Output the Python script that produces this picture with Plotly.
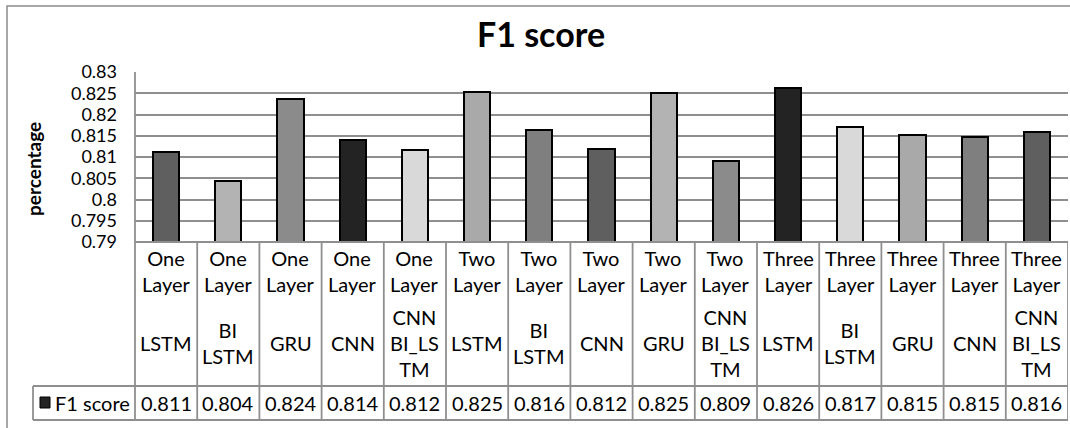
import plotly.graph_objects as go

# Model configurations (two-line table header) and their F1 scores
layers = ["One", "One", "One", "One", "One",
          "Two", "Two", "Two", "Two", "Two",
          "Three", "Three", "Three", "Three", "Three"]
models = ["LSTM", "BI<br>LSTM", "GRU", "CNN", "CNN<br>BI_LS<br>TM",
          "LSTM", "BI<br>LSTM", "CNN", "GRU", "CNN<br>BI_LS<br>TM",
          "LSTM", "BI<br>LSTM", "GRU", "CNN", "CNN<br>BI_LS<br>TM"]
f1_scores = [0.8111, 0.8043, 0.8236, 0.8140, 0.8116,
             0.8253, 0.8164, 0.8120, 0.8251, 0.8091,
             0.8262, 0.8171, 0.8152, 0.8146, 0.8159]
series_name = "F1 score"
y_ticks = [0.79, 0.795, 0.80, 0.805, 0.81, 0.815, 0.82, 0.825, 0.83]
y_tick_text = ["0.79", "0.795", "0.8", "0.805", "0.81", "0.815", "0.82", "0.825", "0.83"]

bar_palette = ["#5f5f5f", "#b3b3b3", "#8b8b8b", "#232323", "#d9d9d9", "#a9a9a9", "#7f7f7f"]
bar_colors = [bar_palette[i % len(bar_palette)] for i in range(len(f1_scores))]

W, H = 1070, 428
L, R, T, B = 135, 2, 72, 186
PW, PH = W - L - R, H - T - B
FONT = "Lato"
GRID = "#8f8f8f"


def px(x):
    return (x - L) / PW


def py(y):
    return (H - B - y) / PH


xs = list(range(len(f1_scores)))

fig = go.Figure(go.Bar(
    x=xs, y=f1_scores, width=0.42,
    marker=dict(color=bar_colors, line=dict(color="#000000", width=2)),
    name=series_name, showlegend=False,
))

shapes = []
# outer chart frame
shapes.append(dict(type="rect", xref="paper", yref="paper",
                   x0=px(7), x1=px(1080), y0=py(6), y1=py(440),
                   line=dict(color="#8a8a8a", width=1.5)))
# data table grid
line_style = dict(color=GRID, width=1.8)
shapes.append(dict(type="line", xref="paper", yref="paper", x0=px(135), x1=px(1068),
                   y0=py(242), y1=py(242), line=line_style))
for yy in (386, 420):
    shapes.append(dict(type="line", xref="paper", yref="paper", x0=px(33), x1=px(1068),
                       y0=py(yy), y1=py(yy), line=line_style))
shapes.append(dict(type="line", xref="paper", yref="paper", x0=px(33), x1=px(33),
                   y0=py(386), y1=py(420), line=line_style))
shapes.append(dict(type="line", xref="paper", yref="paper", x0=px(135), x1=px(135),
                   y0=py(72), y1=py(420), line=line_style))
for i in range(len(xs)):
    shapes.append(dict(type="line", xref="x", yref="paper", x0=i + 0.5, x1=i + 0.5,
                       y0=py(242), y1=py(420), line=line_style))
# legend key
shapes.append(dict(type="rect", xref="paper", yref="paper",
                   x0=px(40), x1=px(50), y0=py(397), y1=py(408),
                   fillcolor="#232323", line=dict(color="#000000", width=1)))

annotations = []
txt = dict(family=FONT, size=20, color="#000000")
for i in xs:
    annotations.append(dict(x=i, y=py(271), xref="x", yref="paper",
                            text=f"{layers[i]}<br>Layer", showarrow=False,
                            font=txt, xanchor="center", yanchor="middle"))
    annotations.append(dict(x=i, y=py(343), xref="x", yref="paper",
                            text=models[i], showarrow=False,
                            font=txt, xanchor="center", yanchor="middle"))
    annotations.append(dict(x=i, y=py(403), xref="x", yref="paper",
                            text=f"{f1_scores[i]:.3f}", showarrow=False,
                            font=txt, xanchor="center", yanchor="middle"))
annotations.append(dict(x=px(53), y=py(403), xref="paper", yref="paper",
                        text=series_name, showarrow=False, font=txt,
                        xanchor="left", yanchor="middle"))
annotations.append(dict(x=px(33), y=py(169), xref="paper", yref="paper",
                        text="<b>percentage</b>", showarrow=False, textangle=-90,
                        font=dict(family=FONT, size=19, color="#000000"),
                        xanchor="center", yanchor="middle"))

fig.update_layout(
    width=W, height=H,
    margin=dict(l=L, r=R, t=T, b=B, pad=0),
    paper_bgcolor="#ffffff", plot_bgcolor="#ffffff",
    title=dict(text="<b>F1 score</b>", x=541 / W, xanchor="center",
               y=1 - 35 / H, yanchor="middle",
               font=dict(family=FONT, size=34, color="#000000")),
    xaxis=dict(range=[-0.5, len(xs) - 0.5], showticklabels=False, showgrid=False,
               zeroline=False, showline=False, ticks=""),
    yaxis=dict(range=[0.79, 0.83], tickvals=y_ticks, ticktext=y_tick_text,
               showgrid=True, gridcolor=GRID, gridwidth=1.8, zeroline=False,
               showline=False, ticks="", ticklabelstandoff=17,
               tickfont=dict(family=FONT, size=18, color="#000000")),
    shapes=shapes, annotations=annotations,
    bargap=0,
)

fig.write_html("out.html")
